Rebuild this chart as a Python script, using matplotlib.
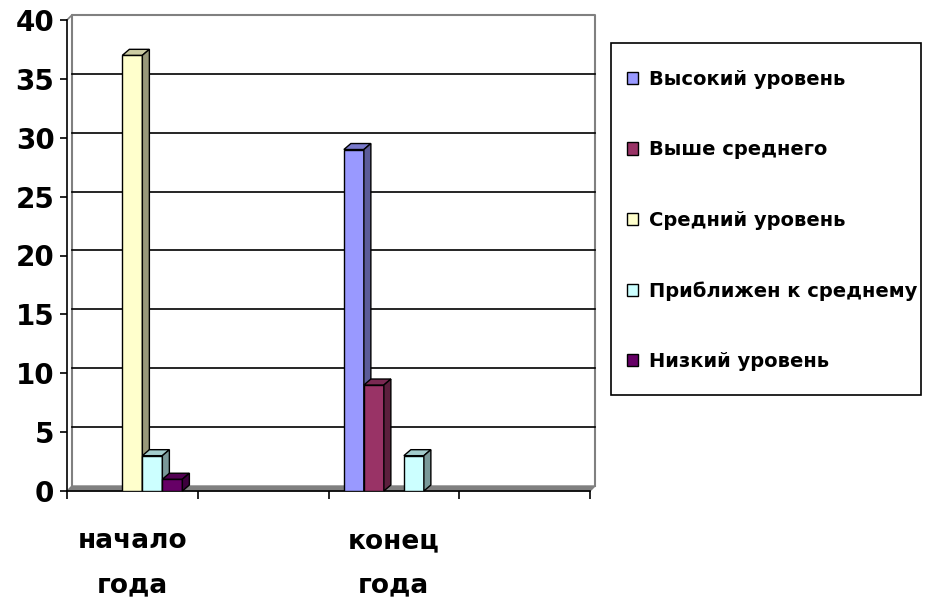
import matplotlib
import matplotlib.pyplot as plt
from matplotlib.patches import Polygon, Patch, Rectangle
import numpy as np

matplotlib.use('Agg')

# data
categories = ['начало\nгода', '', 'конец\nгода', '']
series_names = ['Высокий уровень', 'Выше среднего', 'Средний уровень',
                'Приближен к среднему', 'Низкий уровень']
high = [0, 0, 29, 0]
above_mid = [0, 0, 9, 0]
middle = [37, 0, 0, 0]
near_mid = [3, 0, 3, 0]
low = [1, 0, 0, 0]
series_values = [high, above_mid, middle, near_mid, low]
colors = ['#9999FF', '#993366', '#FFFFCC', '#CCFFFF', '#660066']
y_ticks = [0, 5, 10, 15, 20, 25, 30, 35, 40]


def shade(color, k):
	rgb = np.array(matplotlib.colors.to_rgb(color))
	return tuple(rgb * k)


W, H = 925, 603
fig = plt.figure(figsize=(W / 100, H / 100), dpi=100)
left, right, bottom, top = 67, 590, 491, 20
ax = fig.add_axes([left / W, 1 - bottom / H, (right - left) / W, (bottom - top) / H])
ax.set_xlim(-0.5, 3.5)
ax.set_ylim(0, 40)

px_x = 4 / (right - left)      # data units per pixel
px_y = 40 / (bottom - top)
wall_dx, wall_dy = 5 * px_x, 5 * px_y
bar_dx, bar_dy = 7 * px_x, 6 * px_y

# back wall, floor, gridlines
wall = '#808080'
ax.plot([-0.5 + wall_dx, -0.5 + wall_dx, 3.5 + wall_dx, 3.5 + wall_dx],
        [wall_dy, 40 + wall_dy, 40 + wall_dy, wall_dy], color=wall, lw=1.5, clip_on=False, zorder=1)
ax.plot([-0.5, -0.5 + wall_dx], [40, 40 + wall_dy], color=wall, lw=1.2, clip_on=False, zorder=1)
ax.add_patch(Polygon([(-0.5, 0), (3.5, 0), (3.5 + wall_dx, wall_dy), (-0.5 + wall_dx, wall_dy)],
                     closed=True, facecolor=wall, edgecolor=wall, clip_on=False, zorder=1))
for t in y_ticks[1:-1]:
	ax.plot([-0.5 + wall_dx, 3.5 + wall_dx], [t + wall_dy, t + wall_dy], color='black', lw=1.2,
	        clip_on=False, zorder=1)

# bars
x = np.arange(len(categories))
bw = 20 * px_x
for i, (vals, c) in enumerate(zip(series_values, colors)):
	xs = x + (i - 2) * bw
	for xc, v in zip(xs, vals):
		if v == 0:
			continue
		x0, x1 = xc - bw / 2, xc + bw / 2
		ax.bar(xc, v, width=bw, color=c, edgecolor='black', linewidth=1, zorder=3)
		ax.add_patch(Polygon([(x0, v), (x1, v), (x1 + bar_dx, v + bar_dy), (x0 + bar_dx, v + bar_dy)],
		                     closed=True, facecolor=shade(c, 0.8), edgecolor='black', lw=1, zorder=3,
		                     clip_on=False))
		ax.add_patch(Polygon([(x1, 0), (x1, v), (x1 + bar_dx, v + bar_dy), (x1 + bar_dx, bar_dy)],
		                     closed=True, facecolor=shade(c, 0.6), edgecolor='black', lw=1, zorder=3,
		                     clip_on=False))

# axes
for s in ['top', 'right']:
	ax.spines[s].set_visible(False)
ax.spines['left'].set_linewidth(1.2)
ax.spines['bottom'].set_linewidth(1.2)
ax.patch.set_visible(False)
ax.set_yticks(y_ticks)
ax.tick_params(axis='y', direction='out', length=5, width=1.2, labelsize=20, pad=4)
for lab in ax.get_yticklabels():
	lab.set_fontweight('bold')
ax.set_xticks(np.arange(-0.5, 4, 1))
ax.set_xticklabels([])
ax.tick_params(axis='x', which='major', direction='out', length=6, width=1.2)
ax.set_xticks(x, minor=True)
ax.set_xticklabels(categories, minor=True, fontsize=19, fontweight='bold', linespacing=1.9)
ax.tick_params(axis='x', which='minor', length=0, pad=27)

# legend
fig.patches.append(Rectangle((611 / W, 1 - 395 / H), (921 - 611) / W, (395 - 43) / H,
                             transform=fig.transFigure, facecolor='white', edgecolor='black',
                             linewidth=1.2, zorder=0))
handles = [Patch(facecolor=c, edgecolor='black', linewidth=1) for c in colors]
leg = fig.legend(handles, series_names, loc='upper left', bbox_to_anchor=(627 / W, 1 - 70 / H),
                 prop={'weight': 'bold', 'size': 14}, frameon=False,
                 labelspacing=2.64, borderpad=0, handlelength=0.55,
                 handleheight=0.6, handletextpad=0.6, borderaxespad=0)

fig.savefig('out.png', dpi=100)
